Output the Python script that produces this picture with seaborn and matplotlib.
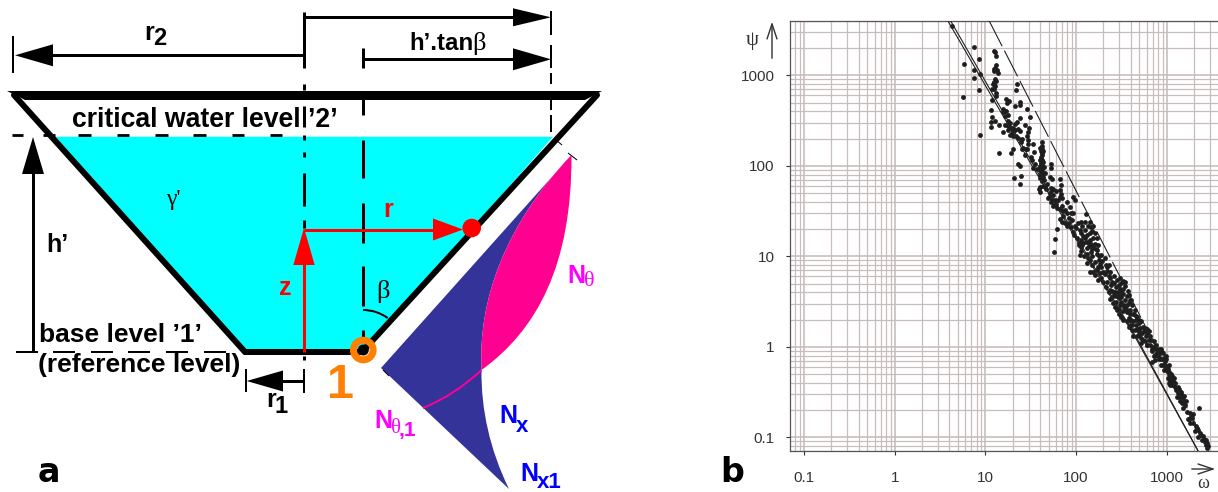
import numpy as np
import pandas as pd
import matplotlib
matplotlib.use("Agg")
import matplotlib.pyplot as plt
from matplotlib.ticker import FixedLocator, NullFormatter
from matplotlib.patches import Arc, Circle, PathPatch
from matplotlib.path import Path
import seaborn as sns

# ---------- panel b values (log10 of omega and psi) ----------
log_omega = [.63,.87,.77,.93,1.09,1.11,1.12,1.12,1.09,1.11,1.14,.87,.94,.88,.75,.93,1.12,1.09,1.08,1.11,1.07,1.35,1.34,1.12,1.07,1.23,1.26,1.24,1.38,1.38,1.33,1.46,1.06,1.20,1.23,1.25,1.22,1.07,1.11,1.06,1.06,1.15,1.22,1.25,1.33,1.38,1.35,1.49,1.44,1.48,1.31,1.36,1.20,1.27,1.31,1.47,1.46,.94,1.36,1.47,1.47,1.62,1.63,1.53,1.31,1.15,1.28,1.40,1.45,1.54,1.44,1.62,1.61,1.36,1.38,1.72,1.72,1.61,1.62,1.63,1.60,1.64,1.53,1.57,1.39,1.32,1.38,1.71,1.73,1.62,1.66,1.60,1.60,1.82,1.83,1.82,1.73,1.71,1.69,1.75,1.77,1.82,1.76,1.79,1.90,1.97,1.99,1.93,1.88,1.97,1.82,1.92,1.79,1.90,2.11,2.06,2.15,2.19,1.77,1.97,2.04,2.10,2.21,2.01,2.08,2.15,2.23,2.03,2.12,2.22,1.76,
 2.03,2.08,2.14,2.21,2.04,2.12,2.17,2.23,2.28,2.32,2.15,2.21,2.26,2.36,2.15,2.23,2.30,2.38,2.21,2.28,2.36,2.45,2.52,2.39,2.47,2.54,2.38,2.43,2.50,2.58,2.41,2.47,2.54,2.61,2.41,2.49,2.56,2.45,2.52,2.60,2.65,2.50,2.58,2.67,2.58,2.63,2.69,2.72,2.65,2.71,2.76,2.80,2.69,2.74,2.80,2.83,2.85,2.91,2.96,2.84,2.93,2.98,2.87,2.96,3.00,3.04,3.02,3.07,3.09,3.04,3.13,3.17,3.15,3.20,3.18,3.36,3.26,3.28,3.26,3.33,3.37,3.40,3.44,3.39,3.45,
 1.61,1.63,1.62,1.64,1.61,1.63,1.62,2.42,2.46,2.48,2.52,2.44,2.50,2.56,2.63,2.67,2.73,2.77,2.82,2.88,2.90,2.94,2.97,2.99,3.02,3.05,3.06,3.10,3.14,3.16,3.19,3.06,2.10,2.06,2.13,2.18,2.25,2.34,2.40,2.44,2.49,2.53,2.59,2.62,2.66,2.70,2.75,2.78,2.84,2.89,3.01,3.03,3.08,3.11,3.22,3.24,3.31,3.35,3.42,3.43]
log_psi = [3.55,3.31,3.13,3.18,3.27,3.26,3.21,3.11,3.07,3.08,3.03,3.06,3.01,2.97,2.76,2.84,2.94,2.93,2.90,2.88,2.85,2.90,2.84,2.77,2.73,2.74,2.72,2.69,2.71,2.67,2.66,2.63,2.62,2.63,2.60,2.56,2.55,2.54,2.50,2.48,2.43,2.45,2.45,2.44,2.46,2.53,2.48,2.54,2.45,2.42,2.42,2.41,2.37,2.34,2.33,2.37,2.33,2.34,2.31,2.29,2.24,2.26,2.22,2.24,2.18,2.14,2.14,2.18,2.18,2.15,2.12,2.14,2.10,2.02,2.00,2.02,1.97,2.03,1.97,1.94,1.90,1.88,1.97,1.96,1.89,1.86,1.80,1.88,1.85,1.83,1.77,1.77,1.71,1.85,1.79,1.73,1.73,1.70,1.64,1.68,1.62,1.66,1.57,1.53,1.60,1.66,1.62,1.54,1.51,1.48,1.41,1.37,1.30,1.33,1.47,1.38,1.38,1.33,1.19,1.27,1.29,1.29,1.26,1.20,1.22,1.18,1.20,1.15,1.09,1.08,1.05,
 1.13,1.15,1.11,1.14,1.01,1.03,1.05,1.07,1.01,.98,.96,.94,.92,.90,.83,.85,.83,.83,.79,.76,.78,.74,.73,.68,.68,.67,.63,.61,.61,.57,.56,.54,.52,.52,.48,.46,.46,.41,.39,.41,.41,.33,.32,.33,.22,.28,.26,.28,.19,.21,.21,.17,.13,.08,.08,.08,.00,-.05,-.07,-.17,-.13,-.16,-.09,-.20,-.27,-.33,-.36,-.38,-.44,-.42,-.51,-.55,-.60,-.64,-.68,-.68,-.73,-.79,-.84,-.90,-.95,-.99,-1.06,-1.03,-1.12,
 2.08,2.05,2.00,1.99,1.93,1.91,1.86,.60,.60,.64,.58,.50,.50,.38,.36,.20,.15,.12,.02,-.02,-.10,-.02,-.12,-.22,-.30,-.36,-.42,-.48,-.47,-.50,-.60,-.32,1.20,1.10,1.16,1.08,1.00,.88,.72,.66,.56,.44,.30,.24,.34,.16,.17,.02,-.05,-.07,-.24,-.40,-.40,-.55,-.72,-.80,-.93,-1.00,-1.05,-1.09]

dense_pairs = [(1.60,2.20),(1.62,2.18),(1.64,2.16),(1.61,2.16),(1.63,2.12),(1.60,2.06),(1.62,2.06),(1.64,2.04),(1.60,2.00),(1.62,2.01),(1.65,1.99),(1.59,1.96),(1.61,1.94),(1.63,1.90),(1.66,1.92),(1.60,1.86),(1.62,1.86),(1.65,1.84),(1.68,1.80),(1.64,1.78),(1.67,1.74),(1.59,1.74),(1.72,1.76),(1.75,1.74),(1.78,1.72),(1.70,1.66),(1.74,1.62),(1.72,1.60),(1.78,1.58),(1.80,1.62),(1.83,1.69),(1.84,1.64),(1.75,1.56),(1.82,1.52),(1.85,1.56),(1.86,1.50),(1.90,1.48),(1.94,1.48),(1.86,1.44),(1.84,1.38),(1.88,1.37),(1.92,1.42),(1.96,1.40),(1.94,1.32),(1.99,1.34),(2.02,1.37),(1.98,1.24),(2.00,1.31),(2.05,1.26),(2.07,1.33),(2.10,1.38),(2.13,1.34),(2.16,1.32),(2.18,1.28),(2.12,1.24),(2.15,1.26),(2.05,1.18),(2.07,1.12),(2.11,1.16),(2.16,1.14),(2.19,1.20),(2.19,1.10),(2.24,1.12),(2.23,1.02),(2.06,1.06),(2.09,1.00),(2.13,.98),(2.18,1.00),(2.25,.96),(2.29,.95),(2.12,.93),(2.18,.90),(2.24,.88),(2.28,.88),(2.33,.90),(2.19,.83),(2.26,.82),(2.32,.80),(2.34,.84),(2.24,.74),(2.30,.72),(2.34,.72),(2.38,.76),(2.42,.78),(2.33,.66),(2.42,.70),(2.50,.70),(2.49,.76),(2.54,.72),(2.36,.60),(2.40,.62),(2.46,.56),(2.52,.64),(2.57,.62),(2.38,.53),(2.44,.56),(2.50,.55),(2.56,.56),(2.59,.52),(2.43,.44),(2.47,.42),(2.53,.46),(2.58,.48),(2.62,.46),(2.47,.36),(2.55,.42),(2.60,.36),(2.64,.36),(2.52,.30),(2.56,.28),(2.61,.30),(2.66,.30),(2.69,.30),(2.60,.24),(2.62,.18),(2.66,.24),(2.70,.20),(2.74,.22),(2.78,.20),(2.63,.12),(2.67,.12),(2.72,.10),(2.76,.06),(2.78,.15),(2.82,.12),(2.86,.06),(2.72,.04),(2.78,.02),(2.84,-.02),(2.88,.02),(2.92,-.02),(2.86,-.10),(2.89,-.07),(2.92,-.08),(2.95,-.06),(2.99,-.10),(2.87,-.15),(2.91,-.14),(2.95,-.14),(2.99,-.14),(2.94,-.20),(2.98,-.20),(3.02,-.20),(3.00,-.24),(2.97,-.26),(3.03,-.28),(3.05,-.30),(3.01,-.34),(3.04,-.38),(3.08,-.34),(3.06,-.40),(3.09,-.40),(3.11,-.46),(3.13,-.44),(3.16,-.52),(3.18,-.56),(3.14,-.55),(3.19,-.54),(3.21,-.60),(3.17,-.62),(3.27,-.76),(3.29,-.74),(3.25,-.80),(3.29,-.84),(3.32,-.88),(3.35,-.92),(3.38,-.98),(3.41,-1.02),(3.43,-1.03),(3.46,-1.10),
 (1.25,2.40),(1.28,2.42),(1.30,2.38),(1.33,2.40),(1.38,2.38),(1.40,2.30),(1.29,2.36),(1.34,2.33),(1.27,2.47),(1.19,2.59),(1.22,2.60),(1.25,2.50),(1.39,2.26),(1.42,2.20),(1.46,2.19),(1.50,2.10),(1.52,2.06),(1.55,2.02),(1.10,3.05),(1.13,3.06),(1.10,2.92),(1.11,2.96),(1.09,2.85),(1.12,2.80)]

solid_a_omega = [3.84, 32.7, 467, 2213]
solid_a_psi = [4030, 100, 1.19, 0.071]
solid_b_omega = [4.12, 34.3, 480, 2213]
solid_b_psi = [4030, 100, 1.19, 0.071]
dash_omega = [10.97, 2926]
dash_psi = [4030, 0.071]
tick_values = [0.1, 1, 10, 100, 1000]
tick_labels = ["0.1", "1", "10", "100", "1000"]

# ---------- panel a geometry (sketch units, y downward) ----------
water_x = [54, 553, 364, 245]
water_y = [136.7, 136.7, 352, 352]
wall_x = [14, 245, 362, 597]
wall_y = [95, 352, 352, 95]
center_dashes = [(12, 68), (84, 90), (106, 127), (135, 140), (152, 157), (173, 206), (220, 228), (356, 360)]
beta_dashes = [(48, 68), (99, 115), (140, 178), (203, 243), (266, 306), (330, 337)]
base_dashes = [(16, 38), (53, 75), (91, 113), (128, 150), (166, 188), (204, 226)]
level_dashes = [(12, 23), (43, 55), (78, 91), (117, 129), (155, 168), (193, 206), (232, 244), (270, 282)]
edge_dashes = [(11, 35), (45, 68), (73, 84), (100, 110), (115, 132)]

BLACK = "#000000"
CYAN = "#00ffff"
RED = "#ff0000"
ORANGE = "#ff8000"
NAVY = "#333399"
PINK = "#ff0090"
MAGENTA = "#ff00ff"
BLUE = "#0000ff"
GRID = "#c8bdbd"
INK = "#333333"
PX = 0.72  # points per pixel at 100 dpi

sns.set_theme(style="white")
plt.rcParams["font.family"] = ["Liberation Sans", "DejaVu Sans"]

fig = plt.figure(figsize=(12.18, 4.92), dpi=100)
ax = fig.add_axes([0, 0, 1, 1], zorder=1)
ax.set_xlim(0, 1218)
ax.set_ylim(492, 0)
ax.axis("off")
ax.patch.set_alpha(0)


def seg(x0, y0, x1, y1, w=3, c=BLACK, z=3):
    ax.plot([x0, x1], [y0, y1], color=c, lw=w * PX, solid_capstyle="butt", zorder=z)


def head_h(tip, y, base, half, c=BLACK, z=4):
    ax.fill([tip, base, base], [y, y - half, y + half], color=c, lw=0, zorder=z)


def head_v(x, tip, base, half, c=BLACK, z=4):
    ax.fill([x, x - half, x + half], [tip, base, base], color=c, lw=0, zorder=z)


def label(x, y, s, size=16, c=BLACK, weight="bold", family=None, ha="left", va="baseline"):
    ax.text(x, y, s, fontsize=size, color=c, fontweight=weight, ha=ha, va=va,
            family=family or "Liberation Sans", zorder=6)


SERIF = "Liberation Serif"

# water and wall
ax.fill(water_x, water_y, color=CYAN, lw=0, zorder=1)
ax.plot(wall_x, wall_y, color=BLACK, lw=6 * PX, solid_joinstyle="miter", zorder=3)
ax.fill([7, 602, 585, 25], [91, 91, 100, 100], color=BLACK, lw=0, zorder=3)

# membrane force diagram
blue_verts = [(571.5, 155), (505, 225), (478, 300), (481.5, 370), (481, 410), (490, 450), (509, 489),
              (381, 368), (571.5, 155)]
blue_codes = [Path.MOVETO] + [Path.CURVE4] * 6 + [Path.LINETO, Path.CLOSEPOLY]
ax.add_patch(PathPatch(Path(blue_verts, blue_codes), fc=NAVY, ec="none", zorder=2))
pink_verts = [(571.5, 155), (505, 225), (478, 300), (481.5, 370), (537, 330), (572, 265), (571.5, 155),
              (571.5, 155)]
pink_codes = [Path.MOVETO] + [Path.CURVE4] * 6 + [Path.CLOSEPOLY]
ax.add_patch(PathPatch(Path(pink_verts, pink_codes), fc=PINK, ec="none", zorder=2))
thin_verts = [(481.5, 370), (455, 395), (423, 408)]
thin_codes = [Path.MOVETO, Path.CURVE3, Path.CURVE3]
ax.add_patch(PathPatch(Path(thin_verts, thin_codes), fc="none", ec=PINK, lw=2 * PX, zorder=2))
seg(568, 153, 577, 160, 1)
seg(556, 140, 562, 145, 1)
seg(383, 370, 389, 376, 1)

# dashes
for a, b in center_dashes:
    seg(304, a, 304, b, 3)
for a, b in beta_dashes:
    seg(363, a, 363, b, 3)
for a, b in base_dashes:
    seg(a, 352, b, 352, 2)
for a, b in level_dashes:
    seg(a, 135.3, b, 135.3, 2.8)
for a, b in edge_dashes:
    seg(551, a, 551, b, 2)

# dimensions
seg(304, 17.3, 520, 17.3, 3)
head_h(551, 17.3, 513, 9)
seg(40, 55.3, 304, 55.3, 3)
head_h(15, 55.3, 53, 11)
seg(13, 36, 13, 73, 2)
seg(363, 59.3, 520, 59.3, 3)
head_h(551, 59.3, 513, 11)
seg(33, 352, 33, 170, 3)
head_v(33, 137, 174, 11)
seg(270, 381, 304, 381, 3)
head_h(246.7, 381, 283, 10.5)
seg(246, 369, 246, 392, 2)
seg(304, 369, 304, 393, 2)

# red z, r
seg(304, 352, 304, 260, 3, RED)
head_v(304, 228, 265, 10.7, RED)
seg(304, 229.5, 440, 229.5, 3, RED)
head_h(463, 229.5, 433, 11, RED)
ax.add_patch(Circle((471.7, 228), 9.3, color=RED, lw=0, zorder=5))

# node 1
ax.add_patch(Circle((363.3, 350), 9.8, fc="none", ec=ORANGE, lw=7 * PX, zorder=5))
ax.add_patch(Circle((363.3, 350), 5.5, color=BLACK, lw=0, zorder=4))
ax.add_patch(Arc((363, 352), 84, 84, theta1=270, theta2=306, color=BLACK, lw=2 * PX, zorder=4))

# texts
label(72, 127, "critical water level \u20192\u2019", 19.2)
label(39, 342, "base level \u20191\u2019", 19)
label(38, 372, "(reference level)", 19)
label(144, 40, "r", 18)
label(153, 45, "2", 17)
label(409, 50, "h\u2019.tan", 17.4)
label(472, 50, "\u03b2", 19, weight="normal", family=SERIF)
label(46, 252, "h\u2019", 18)
label(266, 407, "r", 18)
label(275, 413, "1", 17)
label(327, 398, "1", 35, ORANGE)
label(279, 295, "z", 18, RED)
label(383, 217, "r", 18, RED)
label(376, 298, "\u03b2", 19, weight="normal", family=SERIF)
label(166, 205, "\u03b3'", 17, weight="normal", family=SERIF)
label(567, 283, "N", 18, MAGENTA)
label(584, 286, "\u03b8", 16, MAGENTA, weight="normal", family=SERIF)
label(374, 428, "N", 18, MAGENTA)
label(391, 433, "\u03b8", 15, MAGENTA, weight="normal", family=SERIF)
label(399, 436, ",1", 15, MAGENTA)
label(499, 423, "N", 18, BLUE)
label(516, 432, "x", 16, BLUE)
label(520, 481, "N", 18, BLUE)
label(537, 488, "x1", 16, BLUE)
label(38, 482, "a", 24, family="DejaVu Sans")
label(720, 482, "b", 24, family="DejaVu Sans")

# ---------- panel b ----------
left, right = 790 / 1218, 1.0
bottom, top = (492 - 451.3) / 492, (492 - 20.7) / 492
axb = fig.add_axes([left, bottom, right - left, top - bottom], zorder=2)
axb.patch.set_alpha(0)
axb.set_xscale("log")
axb.set_yscale("log")

all_u = np.array(log_omega + [p[0] for p in dense_pairs])
all_v = np.array(log_psi + [p[1] for p in dense_pairs])
df = pd.DataFrame({"omega": 10 ** all_u, "psi": 10 ** all_v})
sns.scatterplot(data=df, x="omega", y="psi", s=12, color="#1e1e1e", linewidth=0, ax=axb, zorder=3)
for xs, ys in [(solid_a_omega, solid_a_psi), (solid_b_omega, solid_b_psi)]:
    sns.lineplot(x=xs, y=ys, sort=False, errorbar=None, color="#222222", lw=0.8, ax=axb, zorder=3)
sns.lineplot(x=dash_omega, y=dash_psi, sort=False, errorbar=None, color="#222222", lw=0.8,
             linestyle=(0, (26, 4.5)), ax=axb, zorder=3)

axb.set_xlim(0.0701, 3680)
axb.set_ylim(0.07, 4010)
axb.set_xlabel("")
axb.set_ylabel("")
minor = [m * 10.0 ** e for e in range(-2, 4) for m in range(2, 10)]
for axis in (axb.xaxis, axb.yaxis):
    axis.set_major_locator(FixedLocator(tick_values))
    axis.set_minor_locator(FixedLocator(minor))
    axis.set_minor_formatter(NullFormatter())
axb.set_xticklabels(tick_labels)
axb.set_yticklabels(tick_labels)
axb.grid(which="major", color=GRID, lw=1.2)
axb.grid(which="minor", color=GRID, lw=0.9)
axb.set_axisbelow(True)
axb.tick_params(which="major", length=3, width=0.8, color=INK, labelcolor=INK, labelsize=11,
                bottom=True, left=True)
axb.tick_params(axis="y", which="major", pad=8)
axb.tick_params(axis="x", which="major", pad=11)
axb.tick_params(which="minor", length=0)
for name, sp in axb.spines.items():
    sp.set_color("#555555")
    sp.set_linewidth(0.9)
axb.spines["right"].set_visible(False)

# panel b axis symbols
label(746, 45, "\u03c8", 15, INK, weight="normal", family=SERIF)
ax.annotate("", xy=(772, 19), xytext=(772, 61), zorder=6,
            arrowprops=dict(arrowstyle="->,head_width=0.3,head_length=0.9", color=INK, lw=1))
ax.annotate("", xy=(1218, 469), xytext=(1189, 469), zorder=6,
            arrowprops=dict(arrowstyle="->,head_width=0.3,head_length=0.9", color=INK, lw=1))
label(1197, 488, "\u03c9", 13, INK, weight="normal", family=SERIF)

fig.savefig("out.png", dpi=100)
